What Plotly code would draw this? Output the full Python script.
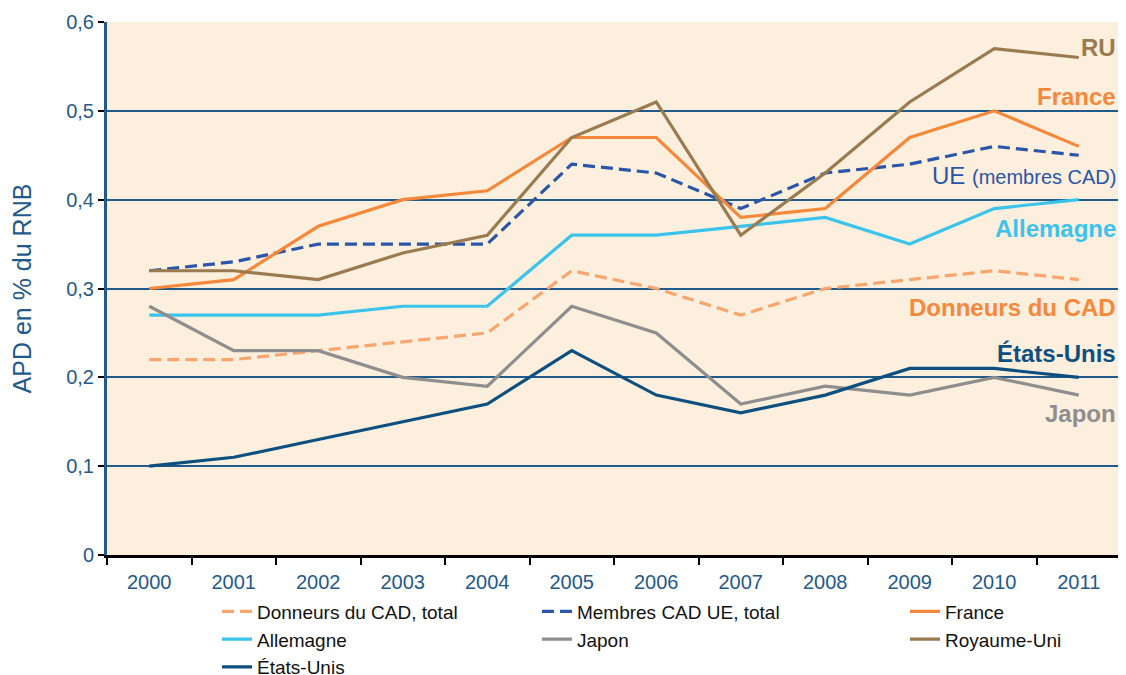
import plotly.graph_objects as go

years = ["2000", "2001", "2002", "2003", "2004", "2005", "2006", "2007", "2008", "2009", "2010", "2011"]
donneurs = [0.22, 0.22, 0.23, 0.24, 0.25, 0.32, 0.30, 0.27, 0.30, 0.31, 0.32, 0.31]
ue = [0.32, 0.33, 0.35, 0.35, 0.35, 0.44, 0.43, 0.39, 0.43, 0.44, 0.46, 0.45]
france = [0.30, 0.31, 0.37, 0.40, 0.41, 0.47, 0.47, 0.38, 0.39, 0.47, 0.50, 0.46]
allemagne = [0.27, 0.27, 0.27, 0.28, 0.28, 0.36, 0.36, 0.37, 0.38, 0.35, 0.39, 0.40]
japon = [0.28, 0.23, 0.23, 0.20, 0.19, 0.28, 0.25, 0.17, 0.19, 0.18, 0.20, 0.18]
ru = [0.32, 0.32, 0.31, 0.34, 0.36, 0.47, 0.51, 0.36, 0.43, 0.51, 0.57, 0.56]
etats_unis = [0.10, 0.11, 0.13, 0.15, 0.17, 0.23, 0.18, 0.16, 0.18, 0.21, 0.21, 0.20]

ytick_vals = [0, 0.1, 0.2, 0.3, 0.4, 0.5, 0.6]
ytick_text = ["0", "0,1", "0,2", "0,3", "0,4", "0,5", "0,6"]

C_DON = "#F9A56E"
C_UE = "#2A55A8"
C_FR = "#F5883A"
C_DE = "#3CC3EC"
C_JP = "#8E8E8E"
C_RU = "#9A7B50"
C_US = "#0D4F7E"
AXIS_BLUE = "#1F5A8A"

# (name, values, color, dash, legend column)
series = [
    ("Donneurs du CAD, total", donneurs, C_DON, "12px,6px", "legend"),
    ("Membres CAD UE, total", ue, C_UE, "12px,6px", "legend2"),
    ("France", france, C_FR, "solid", "legend3"),
    ("Allemagne", allemagne, C_DE, "solid", "legend"),
    ("Japon", japon, C_JP, "solid", "legend2"),
    ("Royaume-Uni", ru, C_RU, "solid", "legend3"),
    ("États-Unis", etats_unis, C_US, "solid", "legend"),
]

fig = go.Figure()
for name, vals, col, dash, lg in series:
    fig.add_trace(go.Scatter(x=years, y=vals, mode="lines", name=name, legend=lg,
                             line=dict(color=col, width=3.2, dash=dash)))

labels = [
    ("<b>RU</b>", 0.571, C_RU),
    ("<b>France</b>", 0.516, C_FR),
    ("UE <span style='font-size:20px'>(membres CAD)</span>", 0.427, C_UE),
    ("<b>Allemagne</b>", 0.368, C_DE),
    ("<b>Donneurs du CAD</b>", 0.279, C_FR),
    ("<b>États-Unis</b>", 0.227, C_US),
    ("<b>Japon</b>", 0.159, C_JP),
]
for txt, yv, col in labels:
    fig.add_annotation(x=0.997, xref="paper", y=yv, yref="y", text=txt,
                       showarrow=False, xanchor="right", yanchor="middle",
                       font=dict(family="Liberation Sans, Arial", size=24, color=col))

leg_common = dict(orientation="v", y=-0.0705, yanchor="top", xanchor="left",
                  font=dict(size=19, color="#111111"), bgcolor="rgba(0,0,0,0)",
                  traceorder="normal")

fig.update_layout(
    width=1118, height=667,
    margin=dict(l=99, r=5, t=14, b=120, autoexpand=False),
    paper_bgcolor="white",
    plot_bgcolor="#FDEFDD",
    font=dict(family="Liberation Sans, Arial", size=20, color=AXIS_BLUE),
    showlegend=True,
    legend=dict(x=0.1085, **leg_common),
    legend2=dict(x=0.424, **leg_common),
    legend3=dict(x=0.787, **leg_common),
)
fig.update_xaxes(type="category", range=[-0.5, 11.5], showline=True,
                 linecolor="black", linewidth=3,
                 ticks="outside", tickson="boundaries", ticklen=7, tickwidth=2,
                 tickcolor="black", showgrid=False, automargin=False,
                 ticklabelstandoff=7,
                 tickfont=dict(size=20, color=AXIS_BLUE))
fig.update_yaxes(range=[0, 0.6], tickvals=ytick_vals, ticktext=ytick_text,
                 showline=True, linecolor=AXIS_BLUE, linewidth=3,
                 ticks="outside", ticklen=6, tickwidth=2, tickcolor="black",
                 showgrid=True, gridcolor=AXIS_BLUE, gridwidth=2,
                 zeroline=False, automargin=False,
                 tickfont=dict(size=20, color=AXIS_BLUE),
                 title=dict(text="APD en % du RNB", font=dict(size=25, color=AXIS_BLUE),
                            standoff=36))

fig.write_html("out.html")
